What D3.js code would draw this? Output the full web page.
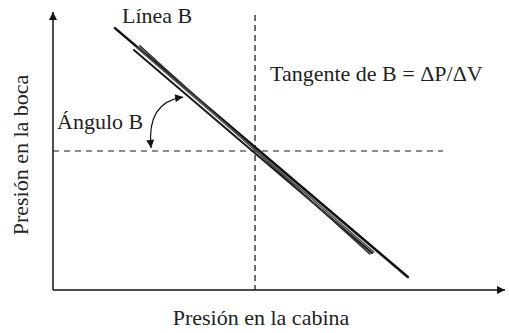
<!DOCTYPE html>
<html><head><meta charset="utf-8">
<script src="https://cdn.jsdelivr.net/npm/d3@7"></script>
<style>body{margin:0;background:#fff}svg{display:block}text{font-family:"Liberation Serif","Times New Roman",serif;fill:#222}</style>
</head><body>
<svg id="c" width="509" height="333"></svg>
<script>
// Data (abstract pressure units, 0-100)
const lineNames = ["B1","B2","B3","B4"];
const lineStartX = [13.7, 17.9, 19.2, 18.6];
const lineStartY = [94.2, 86.3, 87.8, 87.1];
const lineEndX   = [78.5, 70.6, 70.1, 71.0];
const lineEndY   = [4.7, 13.3, 13.0, 13.6];
const refX = 44.7;            // vertical dashed reference
const refY = 50.0;            // horizontal dashed reference
const refYEnd = 86.3;         // where horizontal dashed ends
const angleArc = [[21.7, 51.1],[20.6, 67.6],[28.8, 69.4]]; // start, control, end
const labels = {
  line: "Línea B",
  tangent: "Tangente de B = ΔP/ΔV",
  angle: "Ángulo B",
  xTitle: "Presión en la cabina",
  yTitle: "Presión en la boca"
};

const svg = d3.select("#c");
const x = d3.scaleLinear().domain([0,100]).range([53,505]);
const y = d3.scaleLinear().domain([0,100]).range([290,12]);

const defs = svg.append("defs");
function marker(id,w,h){
  defs.append("marker").attr("id",id).attr("viewBox","0 0 10 10").attr("refX",10).attr("refY",5)
    .attr("markerWidth",w).attr("markerHeight",h).attr("markerUnits","userSpaceOnUse").attr("orient","auto-start-reverse")
    .append("path").attr("d","M0,0L10,5L0,10z").attr("fill","#111");
}
marker("ax",11,8);
marker("ar",9,8);

// dashed references
svg.append("line").attr("x1",x(refX)).attr("x2",x(refX)).attr("y1",y(98.9)).attr("y2",y(0))
  .attr("stroke","#222").attr("stroke-width",1.3).attr("stroke-dasharray","6,4");
svg.append("line").attr("x1",x(0)).attr("x2",x(refYEnd)).attr("y1",y(refY)).attr("y2",y(refY))
  .attr("stroke","#666").attr("stroke-width",1.3).attr("stroke-dasharray","6,5");

// axes
svg.append("line").attr("x1",x(0)).attr("y1",y(0)).attr("x2",x(0)).attr("y2",y(100))
  .attr("stroke","#111").attr("stroke-width",1.5).attr("marker-end","url(#ax)");
svg.append("line").attr("x1",x(0)).attr("y1",y(0)).attr("x2",x(100)).attr("y2",y(0))
  .attr("stroke","#111").attr("stroke-width",1.5).attr("marker-end","url(#ax)");

// lines B
const widths = [2.6, 2.0, 1.8, 1.6];
const cols = ["#111","#1a1a1a","#333","#555"];
lineNames.forEach((n,i)=>{
  svg.append("line").attr("x1",x(lineStartX[i])).attr("y1",y(lineStartY[i]))
    .attr("x2",x(lineEndX[i])).attr("y2",y(lineEndY[i]))
    .attr("stroke",cols[i]).attr("stroke-width",widths[i]).attr("stroke-linecap","round");
});

// angle arrow
const p = d3.path();
p.moveTo(x(angleArc[0][0]),y(angleArc[0][1]));
p.quadraticCurveTo(x(angleArc[1][0]),y(angleArc[1][1]),x(angleArc[2][0]),y(angleArc[2][1]));
svg.append("path").attr("d",p.toString()).attr("fill","none").attr("stroke","#111").attr("stroke-width",1.2)
  .attr("marker-start","url(#ar)").attr("marker-end","url(#ar)");

// texts
const fs = 22;
svg.append("text").attr("x",122).attr("y",23).attr("font-size",fs).text(labels.line);
svg.append("text").attr("x",270).attr("y",81).attr("font-size",fs).text(labels.tangent);
svg.append("text").attr("x",57).attr("y",129).attr("font-size",fs).text(labels.angle);
svg.append("text").attr("x",261).attr("y",325).attr("font-size",fs).attr("text-anchor","middle").text(labels.xTitle);
svg.append("text").attr("transform","translate(28,155) rotate(-90)").attr("font-size",fs).attr("text-anchor","middle").text(labels.yTitle);
</script>
</body></html>
